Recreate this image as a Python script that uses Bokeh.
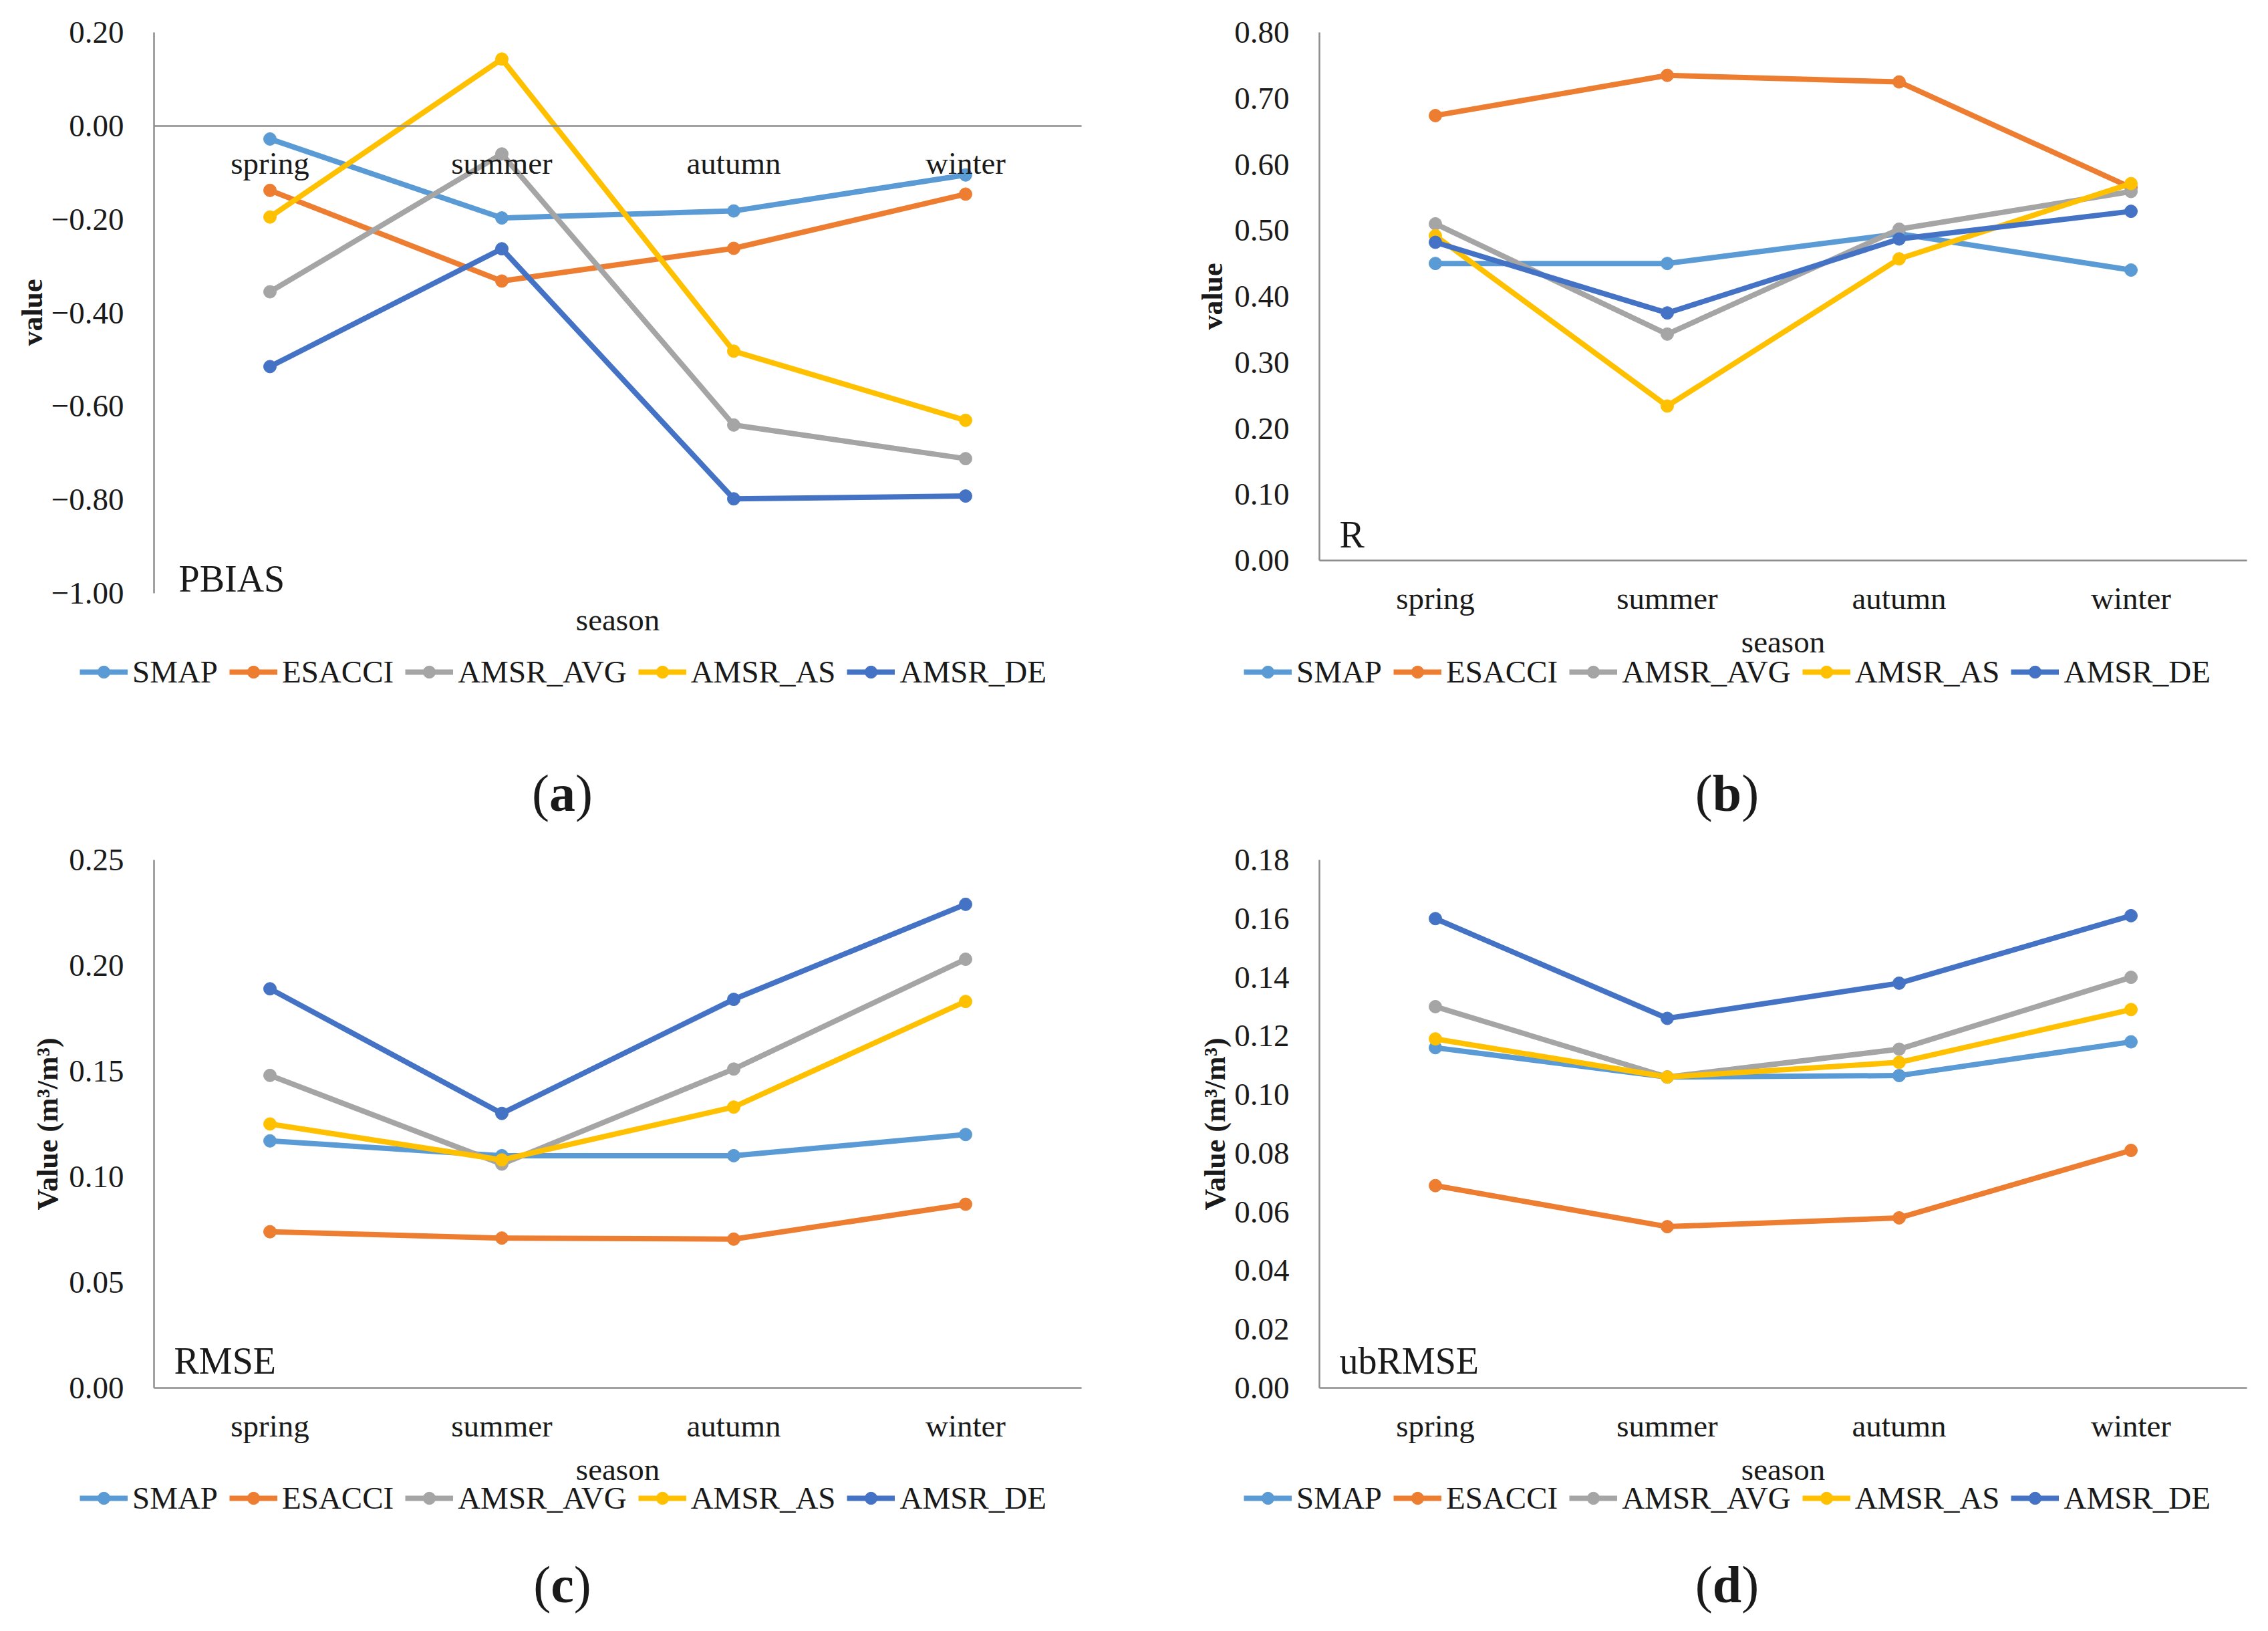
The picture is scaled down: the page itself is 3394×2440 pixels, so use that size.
import math
from bokeh.plotting import figure
from bokeh.models import (Range1d, FixedTicker, Legend, LegendItem, Label,
                          CustomJSTickFormatter)
from bokeh.layouts import column, row
from bokeh.embed import file_html
from bokeh.resources import INLINE

# ---------------- data ----------------
seasons = ["spring", "summer", "autumn", "winter"]
series_names = ["SMAP", "ESACCI", "AMSR_AVG", "AMSR_AS", "AMSR_DE"]
series_colors = ["#5B9BD5", "#ED7D31", "#A5A5A5", "#FFC000", "#4472C4"]

pbias_smap = [-0.028, -0.197, -0.182, -0.105]
pbias_esacci = [-0.138, -0.332, -0.262, -0.146]
pbias_amsr_avg = [-0.355, -0.060, -0.640, -0.712]
pbias_amsr_as = [-0.195, 0.143, -0.482, -0.630]
pbias_amsr_de = [-0.515, -0.263, -0.798, -0.792]

r_smap = [0.450, 0.450, 0.495, 0.440]
r_esacci = [0.674, 0.735, 0.725, 0.565]
r_amsr_avg = [0.510, 0.343, 0.502, 0.559]
r_amsr_as = [0.492, 0.234, 0.457, 0.571]
r_amsr_de = [0.482, 0.375, 0.487, 0.529]

rmse_smap = [0.117, 0.110, 0.110, 0.120]
rmse_esacci = [0.074, 0.071, 0.0705, 0.087]
rmse_amsr_avg = [0.148, 0.106, 0.151, 0.203]
rmse_amsr_as = [0.125, 0.108, 0.133, 0.183]
rmse_amsr_de = [0.189, 0.130, 0.184, 0.229]

ubrmse_smap = [0.116, 0.106, 0.1065, 0.118]
ubrmse_esacci = [0.069, 0.055, 0.058, 0.081]
ubrmse_amsr_avg = [0.130, 0.106, 0.1155, 0.140]
ubrmse_amsr_as = [0.119, 0.106, 0.111, 0.129]
ubrmse_amsr_de = [0.160, 0.126, 0.138, 0.161]

pbias_ticks = [-1.0, -0.8, -0.6, -0.4, -0.2, 0.0, 0.2]
r_ticks = [0.0, 0.1, 0.2, 0.3, 0.4, 0.5, 0.6, 0.7, 0.8]
rmse_ticks = [0.0, 0.05, 0.10, 0.15, 0.20, 0.25]
ubrmse_ticks = [0.0, 0.02, 0.04, 0.06, 0.08, 0.10, 0.12, 0.14, 0.16, 0.18]

x_title = "season"

# ---------------- style ----------------
FONT = "Liberation Serif"
AXIS_COLOR = "#8c8c8c"
TEXT_COLOR = "#1a1a1a"
FS = "47px"
LINE_W = 8
MARK = 19


def make_panel(values, ymin, ymax, yticks, ylabel, tag, letter, zero_axis,
               W, H, PL, PT, PR, PB, pos):
    """W,H figure size; PL..PB plot-area box in px inside the figure.
    pos: px positions (x, y from figure top-left) of the free texts."""
    n = len(seasons)
    xpp = n / (PR - PL)
    ypp = (ymax - ymin) / (PB - PT)
    x0, x1 = -PL * xpp, n + (W - PR) * xpp
    y0, y1 = ymin - (H - PB) * ypp, ymax + PT * ypp

    def xd(px):
        return x0 + px * xpp

    def yd(py):
        return y1 - py * ypp

    p = figure(x_range=Range1d(x0, x1), y_range=Range1d(y0, y1),
               frame_width=W, frame_height=H, min_border=0,
               title=None, output_backend="svg", toolbar_location=None)
    p.outline_line_color = None
    p.xgrid.visible = False
    p.ygrid.visible = False

    xs = [i + 0.5 for i in range(n)]
    items = []
    for name, col, vals in zip(series_names, series_colors, values):
        ln = p.line(xs, vals, line_color=col, line_width=LINE_W)
        sc = p.scatter(xs, vals, size=MARK, fill_color=col, line_color=col)
        items.append(LegendItem(label=name, renderers=[ln, sc]))

    yax = p.yaxis[0]
    yax.fixed_location = 0
    yax.bounds = (ymin, ymax)
    yax.ticker = FixedTicker(ticks=yticks)
    yax.formatter = CustomJSTickFormatter(
        code="return (tick < -1e-9 ? '\\u2212' : '') + Math.abs(tick).toFixed(2);")
    yax.major_label_standoff = 45

    xax = p.xaxis[0]
    xax.fixed_location = 0.0 if zero_axis else ymin
    xax.bounds = (0, n)
    xax.ticker = FixedTicker(ticks=xs)
    xax.major_label_overrides = {x: s for x, s in zip(xs, seasons)}
    xax.major_label_standoff = 30
    for ax in (xax, yax):
        ax.axis_line_color = AXIS_COLOR
        ax.axis_line_width = 2.5
        ax.major_tick_line_color = None
        ax.minor_tick_line_color = None
        ax.major_tick_out = 0
        ax.major_tick_in = 0
        ax.minor_tick_out = 0
        ax.minor_tick_in = 0
        ax.major_label_text_font = FONT
        ax.major_label_text_font_size = FS
        ax.major_label_text_color = TEXT_COLOR

    # y-axis title (rotated)
    p.add_layout(Label(x=xd(pos["ylabel"][0]), y=yd(pos["ylabel"][1]), text=ylabel,
                       angle=math.pi / 2, text_font=FONT, text_font_size="44px",
                       text_font_style="bold", text_color=TEXT_COLOR,
                       text_align="center", text_baseline="middle"))
    # x-axis title
    p.add_layout(Label(x=xd(pos["xlabel"][0]), y=yd(pos["xlabel"][1]), text=x_title,
                       text_font=FONT, text_font_size=FS, text_color=TEXT_COLOR,
                       text_align="center", text_baseline="middle"))
    # metric tag inside the plot area
    p.add_layout(Label(x=xd(pos["tag"][0]), y=yd(pos["tag"][1]), text=tag,
                       text_font=FONT, text_font_size="56px", text_color=TEXT_COLOR,
                       text_align="left", text_baseline="middle"))

    # legend
    item_h = 52
    lx, ly = pos["legend"]
    legend = Legend(items=items, orientation="horizontal",
                    location=(lx, H - ly - item_h / 2), padding=0, margin=0,
                    border_line_color=None, background_fill_alpha=0,
                    label_text_font=FONT, label_text_font_size=FS,
                    label_text_color=TEXT_COLOR, label_height=item_h,
                    glyph_width=72, glyph_height=46, label_standoff=7, spacing=17)
    p.add_layout(legend)

    # caption "(x)" with bold letter
    cfs = 78
    cx, cy = pos["caption"]
    wpar = 0.333 * cfs
    wlet = {"a": 0.5, "b": 0.556, "c": 0.444, "d": 0.556}[letter] * cfs
    start = cx - (2 * wpar + wlet) / 2
    for txt, off, style in (("(", 0, "normal"), (letter, wpar, "bold"),
                            (")", wpar + wlet, "normal")):
        p.add_layout(Label(x=xd(start + off), y=yd(cy), text=txt, text_font=FONT,
                           text_font_size=f"{cfs}px", text_font_style=style,
                           text_color=TEXT_COLOR, text_align="left",
                           text_baseline="middle"))
    return p


pa = make_panel([pbias_smap, pbias_esacci, pbias_amsr_avg, pbias_amsr_as, pbias_amsr_de],
                -1.0, 0.2, pbias_ticks, "value", "PBIAS", "a", True,
                1690, 1240, 230, 48, 1618, 887,
                dict(ylabel=(48, 467), xlabel=(924, 926), tag=(267, 865),
                     legend=(119, 1006), caption=(841, 1186)))
pb = make_panel([r_smap, r_esacci, r_amsr_avg, r_amsr_as, r_amsr_de],
                0.0, 0.8, r_ticks, "value", "R", "b", False,
                1696, 1240, 284, 48, 1672, 838,
                dict(ylabel=(124, 443), xlabel=(978, 959), tag=(314, 799),
                     legend=(171, 1006), caption=(894, 1186)))
pc = make_panel([rmse_smap, rmse_esacci, rmse_amsr_avg, rmse_amsr_as, rmse_amsr_de],
                0.0, 0.25, rmse_ticks, "Value (m\u00b3/m\u00b3)", "RMSE", "c", False,
                1690, 1190, 230, 46, 1618, 836,
                dict(ylabel=(71, 441), xlabel=(924, 957), tag=(260, 795),
                     legend=(119, 1002), caption=(841, 1130)))
pd_ = make_panel([ubrmse_smap, ubrmse_esacci, ubrmse_amsr_avg, ubrmse_amsr_as, ubrmse_amsr_de],
                 0.0, 0.18, ubrmse_ticks, "Value (m\u00b3/m\u00b3)", "ubRMSE", "d", False,
                 1696, 1190, 284, 46, 1672, 836,
                 dict(ylabel=(128, 441), xlabel=(978, 957), tag=(314, 795),
                      legend=(171, 1002), caption=(894, 1130)))

layout = column(row(pa, pb), row(pc, pd_))
open("out.html", "w", encoding="utf-8").write(file_html(layout, INLINE))
